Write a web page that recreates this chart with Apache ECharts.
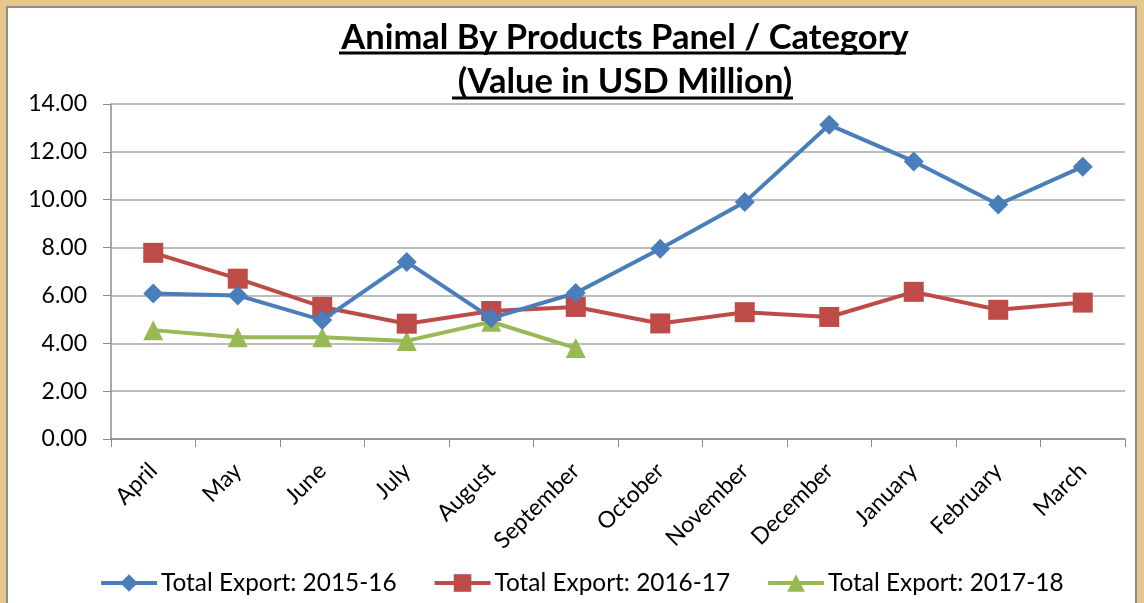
<!DOCTYPE html>
<html><head><meta charset="utf-8">
<script src="https://cdn.jsdelivr.net/npm/echarts@6/dist/echarts.min.js"></script>
<style>html,body{margin:0;padding:0;background:#e6c88f;}#c{width:1144px;height:603px;}</style>
</head><body><div id="c"></div>
<script>
const categories = ['April','May','June','July','August','September','October','November','December','January','February','March'];
const export2015_16 = [6.08, 6.00, 4.97, 7.40, 5.05, 6.10, 7.95, 9.90, 13.13, 11.60, 9.80, 11.38];
const export2016_17 = [7.78, 6.70, 5.52, 4.82, 5.35, 5.52, 4.83, 5.30, 5.10, 6.15, 5.40, 5.70];
const export2017_18 = [4.55, 4.25, 4.25, 4.10, 4.90, 3.80];
const seriesNames = ['Total Export: 2015-16','Total Export: 2016-17','Total Export: 2017-18'];
const titleLines = ['Animal By Products Panel / Category','(Value in USD Million)'];

const font = 'Lato, "Open Sans", sans-serif';
const chart = echarts.init(document.getElementById('c'));
chart.setOption({
  backgroundColor: 'transparent',
  animation: false,
  graphic: [
    {type:'rect', shape:{x:7,y:7,width:1129,height:600}, style:{fill:'#ffffff', stroke:'#8c8c8c', lineWidth:2}, z:-10},
    {type:'line', shape:{x1:339,y1:53,x2:906,y2:53}, style:{stroke:'#000', lineWidth:3}},
    {type:'line', shape:{x1:452,y1:98,x2:793,y2:98}, style:{stroke:'#000', lineWidth:3}}
  ],
  title: {
    text: titleLines.join('\n'),
    left: 620, textAlign: 'center', top: 11,
    textStyle: {fontFamily: font, fontWeight: 'bold', fontSize: 34.5, lineHeight: 44, color: '#000'}
  },
  legend: {
    bottom: 3, left: 94, itemGap: 36, itemWidth: 56, itemHeight: 22,
    lineStyle: {width: 4},
    textStyle: {fontFamily: font, fontSize: 24.4, color: '#000', padding: [0,0,0,-1]},
    data: seriesNames
  },
  grid: {left: 111, right: 19, top: 104, bottom: 164, containLabel: false},
  xAxis: {
    type: 'category', data: categories, boundaryGap: true,
    axisLine: {lineStyle: {color: '#8c8c8c', width: 1.5}},
    axisTick: {show: true, length: 8, lineStyle: {color: '#8c8c8c'}},
    axisLabel: {rotate: 45, fontFamily: font, fontSize: 23, color: '#000', margin: 28, interval: 0}
  },
  yAxis: {
    type: 'value', min: 0, max: 14, interval: 2,
    axisLine: {show: true, lineStyle: {color: '#8c8c8c', width: 1.5}},
    axisTick: {show: true, length: 8, lineStyle: {color: '#8c8c8c'}},
    axisLabel: {formatter: v => v.toFixed(2), fontFamily: font, fontSize: 23, color: '#000', margin: 24},
    splitLine: {lineStyle: {color: '#a6a6a6', width: 1.5}}
  },
  series: [
    {name: seriesNames[0], type: 'line', data: export2015_16, symbol: 'diamond', symbolSize: 20,
     lineStyle: {width: 4, color: '#4a7ebb'}, itemStyle: {color: '#4a7ebb'}, z: 3},
    {name: seriesNames[1], type: 'line', data: export2016_17, symbol: 'rect', symbolSize: 20,
     lineStyle: {width: 4, color: '#be4b48'}, itemStyle: {color: '#be4b48'}, z: 2},
    {name: seriesNames[2], type: 'line', data: export2017_18, symbol: 'triangle', symbolSize: 20,
     lineStyle: {width: 4, color: '#98b954'}, itemStyle: {color: '#98b954'}, z: 1}
  ]
});
</script></body></html>
